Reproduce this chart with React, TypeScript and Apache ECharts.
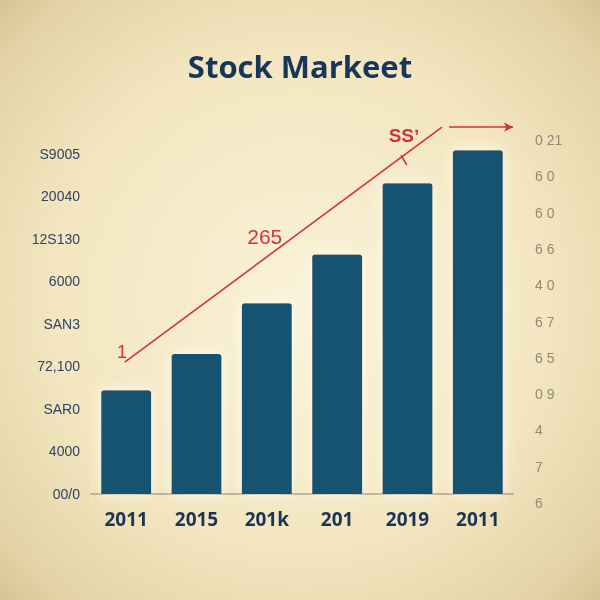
import React, { useEffect, useRef } from "react";
import * as echarts from "echarts";

const categories = ["2011", "2015", "201k", "201", "2019", "2011"];
const barValues = [2440, 3290, 4480, 5630, 7300, 8080];
const leftTickLabels = ["00/0", "4000", "SAR0", "72,100", "SAN3", "6000", "12S130", "20040", "S9005"];
const rightTickLabels = ["6", "7", "4", "0 9", "6 5", "6 7", "4 0", "6 6", "6 0", "6 0", "0 21"];
const trendStart = [-0.02, 3100];
const trendEnd = [4.49, 8620];
const trendTick = [[3.91, 7965], [3.99, 7730]];
const arrowStart = [4.59, 8620];
const arrowEnd = [5.5, 8620];
const annotations = [
  { text: "1", coord: [-0.06, 3330], size: 18, bold: false },
  { text: "265", coord: [1.97, 6040], size: 21, bold: false },
  { text: "SSʼ", coord: [3.95, 8435], size: 19, bold: true },
];

export default function App() {
  const ref = useRef<HTMLDivElement>(null);
  useEffect(() => {
    if (!ref.current) return;
    const chart = echarts.init(ref.current, undefined, { renderer: "svg" });
    const red = "#d2323c";
    chart.setOption({
      animation: false,
      backgroundColor: new echarts.graphic.RadialGradient(0.5, 0.5, 0.75, [
        { offset: 0, color: "#faf2d8" },
        { offset: 0.55, color: "#f3e6c0" },
        { offset: 0.85, color: "#e3d2a6" },
        { offset: 1, color: "#cdb98d" },
      ]),
      title: {
        text: "Stock Markeet",
        left: "center",
        top: 45,
        textStyle: { fontFamily: "Open Sans", fontWeight: "bold", fontSize: 31, color: "#17365a" },
      },
      grid: [
        { left: 91, right: 87, top: 119.5, bottom: 106 },
        { left: 91, right: 87, top: 140, bottom: 97 },
      ],
      xAxis: [
        {
          type: "category",
          gridIndex: 0,
          data: categories,
          axisLine: { lineStyle: { color: "#a39a86", width: 1.5 } },
          axisTick: { show: false },
          axisLabel: {
            margin: 15,
            fontFamily: "Open Sans",
            fontWeight: "bold",
            fontSize: 19,
            color: "#1b3556",
          },
        },
        { type: "value", gridIndex: 0, min: -0.5, max: 5.5, show: false },
        { type: "value", gridIndex: 1, min: 0, max: 1, show: false },
      ],
      yAxis: [
        {
          type: "value",
          gridIndex: 0,
          min: 0,
          max: 8800,
          interval: 1000,
          axisLine: { show: false },
          axisTick: { show: false },
          splitLine: { show: false },
          axisLabel: {
            margin: 11,
            fontFamily: "Liberation Sans",
            fontSize: 14,
            color: "#2c4566",
            formatter: (v: number) => {
              const i = v / 1000;
              return Number.isInteger(i) && leftTickLabels[i] !== undefined ? leftTickLabels[i] : "";
            },
          },
        },
        {
          type: "value",
          gridIndex: 1,
          position: "right",
          min: 0,
          max: 10,
          interval: 1,
          axisLine: { show: true, lineStyle: { color: "#f1e8cf", width: 1 } },
          axisTick: { show: false },
          splitLine: { show: false },
          axisLabel: {
            margin: 22,
            fontFamily: "Liberation Sans",
            fontSize: 14,
            color: "#8f8a7c",
            formatter: (v: number) => rightTickLabels[v] ?? "",
          },
        },
      ],
      series: [
        {
          type: "bar",
          xAxisIndex: 0,
          yAxisIndex: 0,
          data: barValues,
          barWidth: 50,
          itemStyle: {
            color: "#155270",
            borderRadius: [3, 3, 0, 0],
            shadowColor: "rgba(255,255,245,0.9)",
            shadowBlur: 14,
          },
        },
        {
          type: "line",
          xAxisIndex: 1,
          yAxisIndex: 0,
          data: [],
          silent: true,
          markLine: {
            silent: true,
            symbol: ["none", "none"],
            label: { show: false },
            lineStyle: { color: red, width: 1.6, type: "solid" },
            data: [
              [{ coord: trendStart }, { coord: trendEnd }],
              [{ coord: trendTick[0] }, { coord: trendTick[1] }],
              [
                { coord: arrowStart, symbol: "none" },
                { coord: arrowEnd, symbol: "arrow", symbolSize: [7, 9] },
              ],
            ],
          },
          markPoint: {
            silent: true,
            symbol: "circle",
            symbolSize: 0,
            data: annotations.map((a) => ({
              coord: a.coord,
              label: {
                show: true,
                formatter: a.text,
                position: "inside",
                color: red,
                fontFamily: "Liberation Sans",
                fontWeight: a.bold ? "bold" : "normal",
                fontSize: a.size,
              },
            })),
          },
        },
      ],
    });
    return () => chart.dispose();
  }, []);
  return <div ref={ref} style={{ position: "fixed", left: 0, top: 0, width: 600, height: 600 }} />;
}
